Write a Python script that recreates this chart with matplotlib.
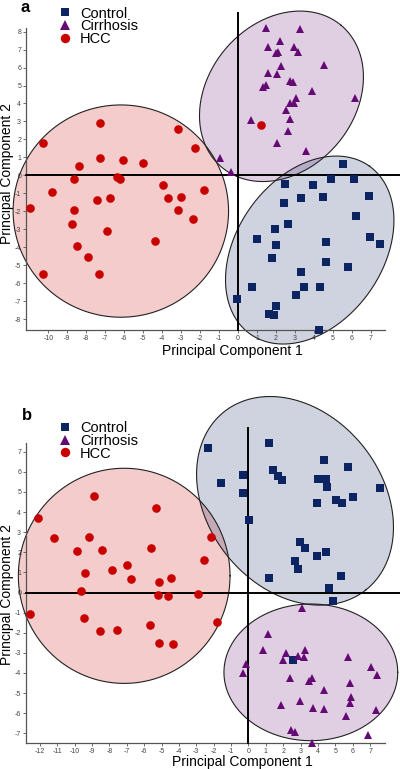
import numpy as np
import matplotlib
matplotlib.use("Agg")
import matplotlib.pyplot as plt
from matplotlib.lines import Line2D

plt.rcParams['font.family'] = ['Liberation Sans', 'DejaVu Sans']
plt.rcParams['axes.unicode_minus'] = False

GROUPS = ["Control", "Cirrhosis", "HCC"]
COLORS = {"Control": "#0c2461", "Cirrhosis": "#650a74", "HCC": "#c80000"}
MARKERS = {"Control": "s", "Cirrhosis": "^", "HCC": "o"}
MSIZE = {"Control": 5.8, "Cirrhosis": 6.3, "HCC": 6.2}

#Panel a scores (PC1, PC2)
ctrl_a_x = [5.56, 4.90, 6.09, 2.48, 3.94, 3.33, 4.47, 6.90, 2.43, 6.20, 2.66, 1.96, 0.99, 1.99, 4.63,
            6.97, 7.50, 1.78, 4.65, 5.79, 3.33, 0.76, 3.49, 4.30, 3.03, -0.06, 1.99, 1.61, 1.91, 4.28]
ctrl_a_y = [0.63, -0.22, -0.22, -0.50, -0.54, -1.28, -1.22, -1.15, -1.52, -2.24, -2.73, -3.00, -3.56, -3.88, -3.69,
            -3.45, -3.82, -4.58, -4.80, -5.08, -5.36, -6.23, -6.20, -6.20, -6.66, -6.88, -7.27, -7.72, -7.77, -8.61]
cirr_a_x = [1.48, 3.27, 1.57, 2.22, 2.93, 2.00, 2.13, 3.14, 2.26, 4.51, 1.57, 2.08, 2.75, 2.89, 1.29,
            1.47, 3.89, 6.19, 3.05, 2.75, 2.93, 2.52, 0.67, 2.75, 2.62, 2.08, 3.59, -0.94, -0.36]
cirr_a_y = [8.18, 8.13, 7.17, 7.48, 7.17, 6.80, 6.85, 6.85, 6.06, 6.15, 5.68, 5.65, 5.28, 5.17, 4.94,
            5.03, 4.72, 4.29, 4.29, 4.05, 4.01, 3.64, 3.09, 3.12, 2.47, 1.78, 1.35, 0.95, 0.21]
hcc_a_x = [-10.31, -7.27, -3.14, -2.26, -8.41, -7.27, -6.04, -4.99, -8.64, -6.39, -6.22, -3.98, -9.82, -1.79, -3.67,
           -3.00, -7.45, -6.75, -10.97, -8.64, -3.14, -2.35, -8.77, -6.89, -4.40, -8.50, -7.92, -10.26, -7.32, 1.22]
hcc_a_y = [1.82, 2.90, 2.56, 1.50, 0.54, 0.99, 0.86, 0.67, -0.22, -0.07, -0.20, -0.53, -0.94, -0.81, -1.28,
           -1.22, -1.37, -1.28, -1.80, -1.93, -1.95, -2.45, -2.71, -3.08, -3.63, -3.93, -4.56, -5.49, -5.49, 2.82]

#Panel b scores (PC1, PC2)
ctrl_b_x = [-2.31, 1.20, -1.58, -0.29, -0.29, 0.02, 1.44, 1.72, 1.94, 4.36, 5.70, 4.03, 4.45, 4.54, 7.57,
            3.94, 5.02, 5.41, 6.00, 2.97, 3.26, 3.94, 4.45, 2.68, 2.84, 5.34, 1.20, 4.66, 4.85, 2.58]
ctrl_b_y = [7.20, 7.45, 5.43, 5.84, 4.93, 3.60, 6.09, 5.79, 5.59, 6.59, 6.22, 5.64, 5.63, 5.26, 5.18,
            4.47, 4.60, 4.43, 4.77, 2.53, 2.20, 1.81, 2.03, 1.57, 1.15, 0.82, 0.70, 0.24, -0.42, -3.36]
cirr_b_x = [3.07, 1.11, 0.86, 2.15, 3.27, 2.84, 3.21, 1.96, -0.14, -0.29, 5.72, 7.06, 7.39, 2.39, 3.51,
            3.65, 4.32, 5.85, 5.91, 5.85, 1.88, 2.97, 3.73, 4.32, 5.62, 7.33, 2.45, 2.65, 6.87, 3.68]
cirr_b_y = [-0.76, -2.07, -2.86, -2.99, -2.86, -3.16, -3.19, -3.36, -3.57, -3.99, -3.22, -3.69, -4.10, -4.24, -4.38,
            -4.27, -4.85, -4.52, -5.18, -5.48, -5.59, -5.39, -5.73, -5.79, -6.12, -5.84, -6.84, -6.95, -7.09, -7.50]
hcc_b_x = [-12.13, -8.89, -5.34, -11.19, -9.18, -2.17, -9.89, -8.41, -5.63, -2.57, -9.41, -7.83, -7.00, -6.75,
           -5.13, -4.46, -9.64, -5.22, -4.64, -2.92, -12.57, -9.44, -1.83, -8.54, -7.58, -5.66, -5.16, -4.32]
hcc_b_y = [3.72, 4.80, 4.22, 2.72, 2.78, 2.78, 2.08, 2.11, 2.23, 1.62, 0.97, 1.12, 1.37, 0.67,
           0.54, 0.73, 0.07, -0.12, -0.16, -0.07, -1.09, -1.28, -1.48, -1.91, -1.86, -1.62, -2.49, -2.56]

#Group ellipses: center and two conjugate semi-axes, in data units
ell_a = {
    "HCC": ((-6.18, -1.99), (5.68, 0.0), (0.0, 5.91)),
    "Cirrhosis": ((2.29, 4.40), (3.15, 3.95), (-2.96, 2.63)),
    "Control": ((3.78, -4.16), (3.15, 4.67), (-3.13, 2.36)),
}
ell_b = {
    "HCC": ((-7.15, 0.83), (6.09, 0.0), (0.0, 5.35)),
    "Control": ((2.68, 4.56), (4.08, -4.43), (3.93, 2.70)),
    "Cirrhosis": ((3.59, -3.97), (5.00, 0.0), (0.0, 3.40)),
}

pts_a = {"Control": (ctrl_a_x, ctrl_a_y), "Cirrhosis": (cirr_a_x, cirr_a_y), "HCC": (hcc_a_x, hcc_a_y)}
pts_b = {"Control": (ctrl_b_x, ctrl_b_y), "Cirrhosis": (cirr_b_x, cirr_b_y), "HCC": (hcc_b_x, hcc_b_y)}


def draw_panel(ax, pts, ells, xlim, ylim, xticks, yticks, lspine_top, bspine_right, vline_top):
    t = np.linspace(0, 2 * np.pi, 300)
    for g in ["HCC", "Cirrhosis", "Control"]:
        c, u, v = ells[g]
        ex = c[0] + u[0] * np.cos(t) + v[0] * np.sin(t)
        ey = c[1] + u[1] * np.cos(t) + v[1] * np.sin(t)
        ax.fill(ex, ey, facecolor=COLORS[g], alpha=0.2, edgecolor='none', zorder=1, clip_on=False)
        ax.plot(ex, ey, color='#222222', lw=0.8, zorder=2, clip_on=False)

    #Zero lines
    ax.axhline(0, color='black', lw=1.4, zorder=3, clip_on=False)
    ax.axvline(0, ymin=0, ymax=(vline_top - ylim[0]) / (ylim[1] - ylim[0]),
               color='black', lw=1.4, zorder=3, clip_on=False)

    for g in GROUPS:
        x, y = pts[g]
        ax.plot(x, y, linestyle='none', marker=MARKERS[g], color=COLORS[g],
                markersize=MSIZE[g], markeredgewidth=0, zorder=4, clip_on=False)

    ax.set_xlim(*xlim)
    ax.set_ylim(*ylim)
    ax.set_xticks(xticks)
    ax.set_yticks(yticks)
    for s in ["top", "right"]:
        ax.spines[s].set_visible(False)
    ax.spines["left"].set_bounds(ylim[0], lspine_top)
    ax.spines["bottom"].set_bounds(xlim[0], bspine_right)
    for s in ["left", "bottom"]:
        ax.spines[s].set_color('#555555')
        ax.spines[s].set_linewidth(0.9)
    ax.tick_params(labelsize=5, length=2, width=0.6, color='#555555', labelcolor='#444444', pad=1.5)
    ax.set_facecolor('none')


fig = plt.figure(figsize=(4.0, 7.69), dpi=100)

#ðŸ“Š Panel a
ax1 = fig.add_axes([0.065, 0.5709, 0.935, 0.4148])
draw_panel(ax1, pts_a, ell_a, (-11.18, 8.54), (-8.61, 9.15),
           range(-10, 8), range(-8, 9), 8.2, 7.76, 9.04)
ax1.set_xlabel("Principal Component 1", fontsize=10)
ax1.xaxis.set_label_coords(0.551, -0.065)
ax1.xaxis.label.set_va('center')
ax1.set_ylabel("Principal Component 2", fontsize=10)
ax1.yaxis.set_label_coords(-0.051, 0.49)
ax1.yaxis.label.set_va('center')

#ðŸ“Š Panel b
ax2 = fig.add_axes([0.065, 0.0334, 0.935, 0.4594])
draw_panel(ax2, pts_b, ell_b, (-12.8, 8.72), (-7.5, 10.07),
           range(-12, 8), range(-7, 8), 7.42, 7.86, 8.17)
ax2.set_xlabel("Principal Component 1", fontsize=10)
ax2.xaxis.set_label_coords(0.578, -0.052)
ax2.xaxis.label.set_va('center')
ax2.set_ylabel("Principal Component 2", fontsize=10)
ax2.yaxis.set_label_coords(-0.051, 0.4226)
ax2.yaxis.label.set_va('center')

#Legends
leg_sizes = {"Control": 5.8, "Cirrhosis": 7.2, "HCC": 6.8}
handles = [Line2D([], [], linestyle='none', marker=MARKERS[g], color=COLORS[g],
                  markersize=leg_sizes[g], markeredgewidth=0) for g in GROUPS]
for ax, ytop in [(ax1, 0.9915), (ax2, 0.4519)]:
    ax.legend(handles, GROUPS, loc='upper left', bbox_to_anchor=(0.148, ytop),
              bbox_transform=fig.transFigure, frameon=False, fontsize=10.5,
              handlelength=0.8, handletextpad=0.62, labelspacing=-0.1,
              borderpad=0, borderaxespad=0)

fig.text(25 / 400, 1 - 7 / 769, "a", fontsize=12, fontweight='bold', ha='center', va='center')
fig.text(26.7 / 400, 1 - 415.7 / 769, "b", fontsize=12, fontweight='bold', ha='center', va='center')

fig.savefig("out.png", dpi=100)
